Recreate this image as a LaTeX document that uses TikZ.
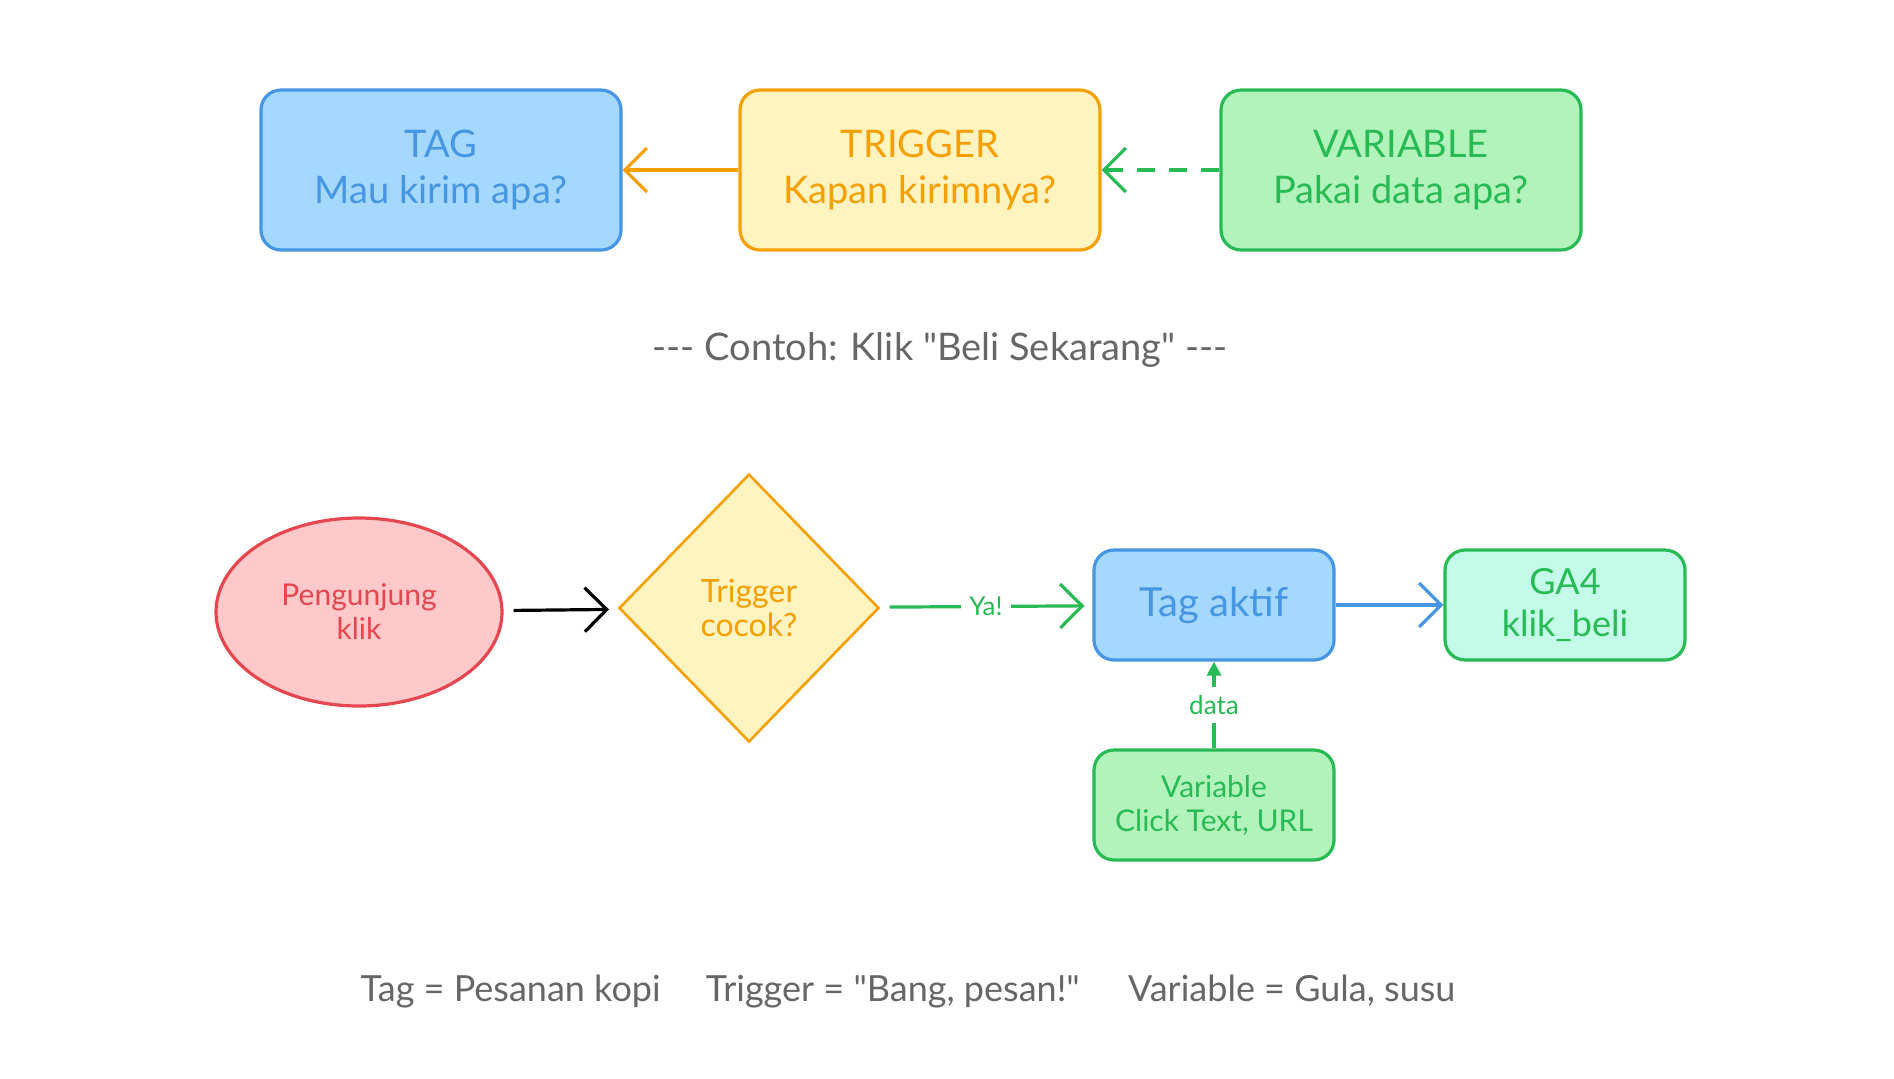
\documentclass[tikz,border=0pt]{standalone}
\usepackage{fontspec}
\setmainfont{Lato}
\usetikzlibrary{arrows.meta,shapes.geometric}
\newcommand{\dq}{\XeTeXglyph\XeTeXcharglyph"22\relax}

\begin{document}
\begin{tikzpicture}[x=0.5pt, y=-0.5pt,
  box/.style={draw, rounded corners=10pt, line width=1.6pt, align=center, inner sep=0pt},
  bigbox/.style={box, minimum width=180pt, minimum height=80pt, font=\fontsize{19}{23}\selectfont},
  smallbox/.style={box, minimum width=120pt, minimum height=55pt},
  flow/.style={line width=1.6pt, -{Straight Barb[length=11pt, width=22pt, line width=1.6pt]}},
  edgelabel/.style={fill=white, inner sep=4pt, font=\fontsize{13}{15}\selectfont},
  note/.style={text=notegray, font=\fontsize{18}{22}\selectfont}]
% Define colors
\definecolor{tagline}{RGB}{70, 150, 228}
\definecolor{tagfill}{RGB}{165, 216, 255}
\definecolor{trigline}{RGB}{245, 159, 0}
\definecolor{trigfill}{RGB}{255, 243, 191}
\definecolor{varline}{RGB}{40, 186, 84}
\definecolor{varfill}{RGB}{178, 242, 187}
\definecolor{mintfill}{RGB}{195, 250, 232}
\definecolor{userline}{RGB}{230, 70, 80}
\definecolor{userfill}{RGB}{255, 201, 201}
\definecolor{notegray}{RGB}{102, 102, 102}

\useasboundingbox (0,0) rectangle (1894,1078);

% Concept row
\node[bigbox, draw=tagline, fill=tagfill, text=tagline] (tag) at (441, 170) {TAG\\Mau kirim apa?};
\node[bigbox, draw=trigline, fill=trigfill, text=trigline] (trigger) at (920, 170) {TRIGGER\\Kapan kirimnya?};
\node[bigbox, draw=varline, fill=varfill, text=varline] (variable) at (1401, 170) {VARIABLE\\Pakai data apa?};

\draw[flow, trigline] (trigger) -- (tag);
\draw[flow, varline, dash pattern=on 9pt off 7pt] (variable) -- (trigger);

% Example heading
\node[note, font=\fontsize{19}{23}\selectfont] (heading) at (940, 350) {-{}-{}- Contoh: Klik \dq Beli Sekarang\dq{} -{}-{}-};

% Example flow
\node[ellipse, draw=userline, fill=userfill, text=userline, line width=1.6pt, minimum width=143pt, minimum height=94pt, align=center, font=\fontsize{15}{17}\selectfont] (visitor) at (359, 612) {Pengunjung\\klik};
\node[diamond, aspect=1, draw=trigline, fill=trigfill, text=trigline, line width=1.3pt, minimum width=130pt, minimum height=134pt, inner sep=0pt, align=center, font=\fontsize{16}{17}\selectfont] (match) at (749, 608) {Trigger\\cocok?};
\node[smallbox, draw=tagline, fill=tagfill, text=tagline, font=\fontsize{20}{22}\selectfont] (active) at (1214, 605) {Tag aktif};
\node[smallbox, draw=varline, fill=mintfill, text=varline, font=\fontsize{18}{21}\selectfont] (ga4) at (1565, 605) {GA4\\klik\_beli};
\node[smallbox, draw=varline, fill=varfill, text=varline, font=\fontsize{15}{17}\selectfont] (clickvar) at (1214, 805) {Variable\\Click Text, URL};

\draw[flow, black, shorten <=5pt, shorten >=5pt] (visitor) -- (match);
\draw[flow, varline, shorten <=5pt, shorten >=4pt] (match) -- node[edgelabel, text=varline] (yes) {Ya!} (active);
\draw[flow, tagline] (active) -- (ga4);
\draw[varline, line width=1.6pt, -{Triangle[length=7pt, width=7pt]}] (clickvar) -- node[edgelabel, text=varline] (data) {data} (active);

% Analogy
\node[note] (analogy) at (908, 992) {Tag = Pesanan kopi \quad Trigger = \dq Bang, pesan!\dq{} \quad Variable = Gula, susu};

\end{tikzpicture}
\end{document}
